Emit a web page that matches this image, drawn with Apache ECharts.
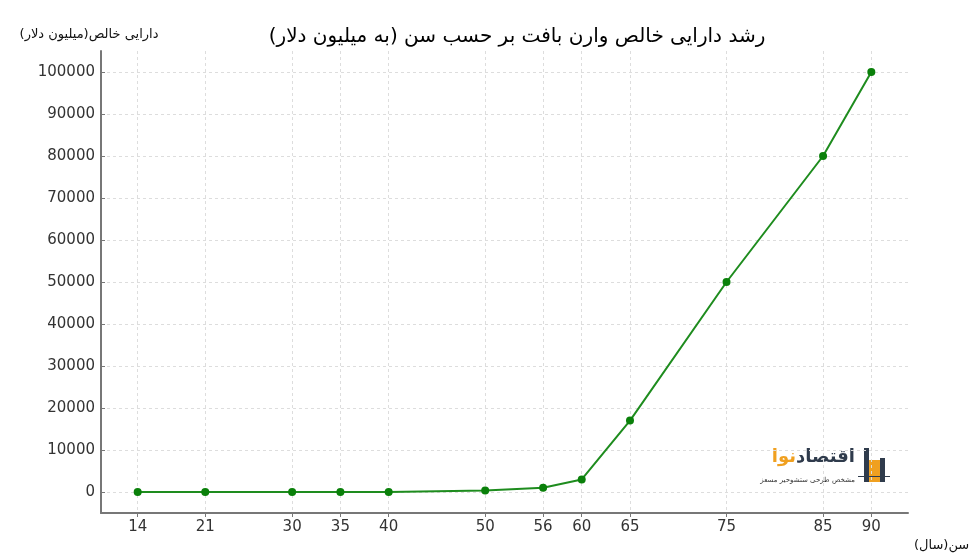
<!DOCTYPE html>
<html><head><meta charset="utf-8">
<script src="https://cdn.jsdelivr.net/npm/echarts@6/dist/echarts.min.js"></script>
<style>html,body{margin:0;padding:0;background:#fff}#c{width:975px;height:560px}</style>
</head><body><div id="c"></div>
<script>
const ages = [14, 21, 30, 35, 40, 50, 56, 60, 65, 75, 85, 90];
const netWorth = [0.01, 0.02, 1, 7, 25, 376, 1000, 3000, 17000, 50000, 80000, 100000];
const xTicks = [14, 21, 30, 35, 40, 50, 56, 60, 65, 75, 85, 90];
const yTicks = [0, 10000, 20000, 30000, 40000, 50000, 60000, 70000, 80000, 90000, 100000];
const titleText = 'رشد دارایی خالص وارن بافت بر حسب سن (به میلیون دلار)';
const yName = 'دارایی خالص(میلیون دلار)';
const xName = 'سن(سال)';
const logoA = 'اقتصاد';
const logoB = 'نوا';

const font = 'DejaVu Sans';
const logoFont = 'bold 18px "DejaVu Sans"';
const cv = document.createElement('canvas').getContext('2d');
cv.font = logoFont;
const wA = cv.measureText(logoA).width;

const chart = echarts.init(document.getElementById('c'));
chart.setOption({
  animation: false,
  backgroundColor: '#fff',
  textStyle: {fontFamily: font},
  title: {text: titleText, left: 512, top: 22, textAlign: 'center',
    textStyle: {fontFamily: font, fontSize: 20, fontWeight: 'normal', color: '#000'}},
  grid: {left: 101, right: 67, top: 51, bottom: 47},
  xAxis: {
    type: 'value', min: 10.2, max: 93.8,
    name: xName, nameLocation: 'end', nameGap: 0,
    nameTextStyle: {fontFamily: font, fontSize: 13, color: '#111', align: 'left', verticalAlign: 'top', padding: [26, 0, 0, 6]},
    axisLine: {show: true, onZero: false, lineStyle: {color: '#777', width: 2}},
    axisTick: {show: true, length: 4, lineStyle: {color: '#777'}, customValues: xTicks},
    axisLabel: {color: '#333', fontSize: 15, margin: 7, customValues: xTicks},
    splitLine: {show: true, lineStyle: {color: '#ddd', type: [3, 3], width: 1}, customValues: xTicks}
  },
  yAxis: {
    type: 'value', min: -5000, max: 105000,
    name: yName, nameLocation: 'end', nameGap: 0,
    nameTextStyle: {fontFamily: font, fontSize: 13, color: '#111', align: 'center', padding: [0, 24, 10, 0]},
    axisLine: {show: true, onZero: false, lineStyle: {color: '#777', width: 2}},
    axisTick: {show: true, inside: true, length: 4, lineStyle: {color: '#777'}, customValues: yTicks},
    axisLabel: {color: '#333', fontSize: 15, margin: 6, customValues: yTicks, formatter: v => String(v)},
    splitLine: {show: true, lineStyle: {color: '#ddd', type: [3, 3], width: 1}, customValues: yTicks}
  },
  graphic: [
    {type: 'text', x: 855, y: 448, style: {text: logoA, font: logoFont, fill: '#2f3b4c', align: 'right'}},
    {type: 'text', x: 855 - wA, y: 448, style: {text: logoB, font: logoFont, fill: '#f0a020', align: 'right'}},
    {type: 'rect', shape: {x: 864, y: 448, width: 5, height: 34}, style: {fill: '#2f3b4c'}},
    {type: 'rect', shape: {x: 869, y: 460, width: 11, height: 22}, style: {fill: '#f0a020'}},
    {type: 'rect', shape: {x: 880, y: 458, width: 5, height: 24}, style: {fill: '#2f3b4c'}},
    {type: 'rect', shape: {x: 858, y: 476, width: 32, height: 1}, style: {fill: '#2f3b4c'}},
    {type: 'text', x: 855, y: 477, style: {text: 'مشخص طرحی ستشوحیر مسعز', font: '7px "DejaVu Sans"', fill: '#333', align: 'right'}}
  ],
  series: [{
    type: 'line',
    data: ages.map((a, i) => [a, netWorth[i]]),
    symbol: 'circle', symbolSize: 8,
    lineStyle: {color: '#1e8c1e', width: 2},
    itemStyle: {color: '#0a800a'}
  }]
});
</script></body></html>
